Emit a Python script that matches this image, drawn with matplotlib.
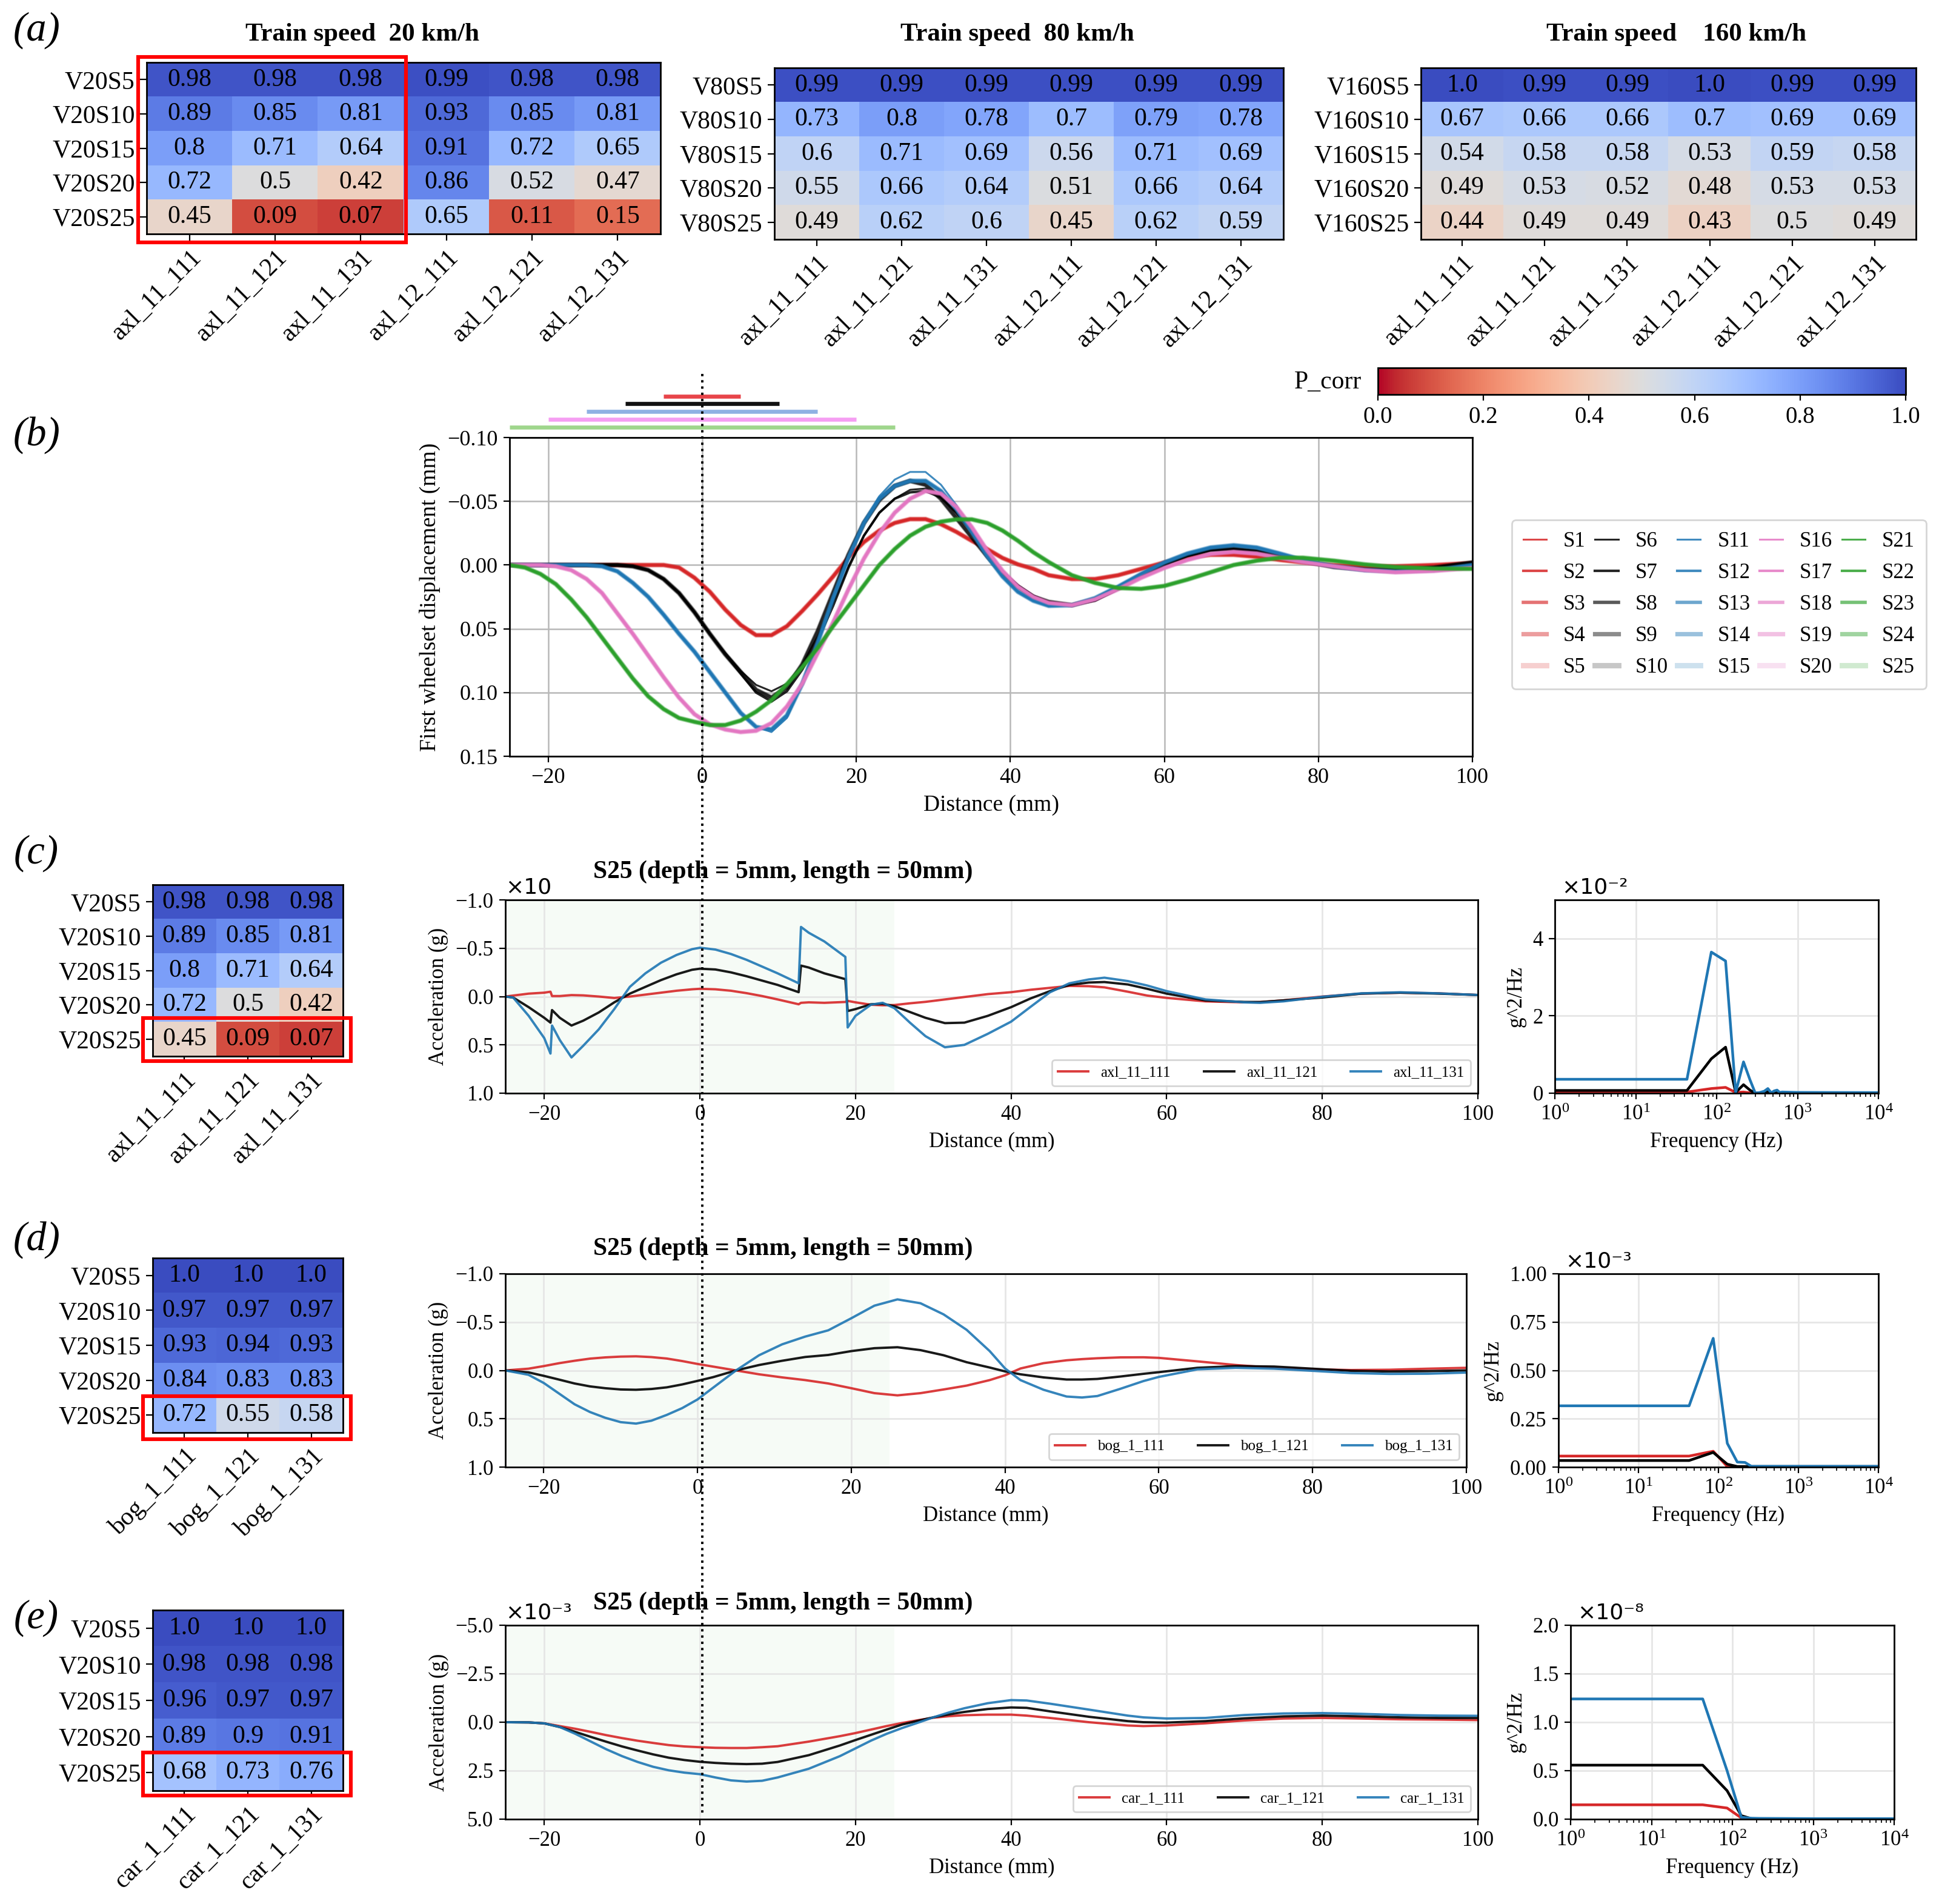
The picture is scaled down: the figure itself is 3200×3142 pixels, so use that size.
import matplotlib
matplotlib.use('Agg')
import matplotlib.pyplot as plt
import matplotlib.transforms as mtransforms
from matplotlib.lines import Line2D
from matplotlib.patches import Rectangle

plt.rcParams['font.family'] = ['Liberation Serif', 'DejaVu Serif']
plt.rcParams['mathtext.fontset'] = 'stix'
plt.rcParams['axes.linewidth'] = 1.0

# ---------------- (a) correlation tables ----------------
axl_cols = ['axl_11_111', 'axl_11_121', 'axl_11_131', 'axl_12_111', 'axl_12_121', 'axl_12_131']
rows_v20 = ['V20S5', 'V20S10', 'V20S15', 'V20S20', 'V20S25']
rows_v80 = ['V80S5', 'V80S10', 'V80S15', 'V80S20', 'V80S25']
rows_v160 = ['V160S5', 'V160S10', 'V160S15', 'V160S20', 'V160S25']
corr_v20 = [[0.98, 0.98, 0.98, 0.99, 0.98, 0.98],
            [0.89, 0.85, 0.81, 0.93, 0.85, 0.81],
            [0.8, 0.71, 0.64, 0.91, 0.72, 0.65],
            [0.72, 0.5, 0.42, 0.86, 0.52, 0.47],
            [0.45, 0.09, 0.07, 0.65, 0.11, 0.15]]
corr_v80 = [[0.99, 0.99, 0.99, 0.99, 0.99, 0.99],
            [0.73, 0.8, 0.78, 0.7, 0.79, 0.78],
            [0.6, 0.71, 0.69, 0.56, 0.71, 0.69],
            [0.55, 0.66, 0.64, 0.51, 0.66, 0.64],
            [0.49, 0.62, 0.6, 0.45, 0.62, 0.59]]
corr_v160 = [[1.0, 0.99, 0.99, 1.0, 0.99, 0.99],
             [0.67, 0.66, 0.66, 0.7, 0.69, 0.69],
             [0.54, 0.58, 0.58, 0.53, 0.59, 0.58],
             [0.49, 0.53, 0.52, 0.48, 0.53, 0.53],
             [0.44, 0.49, 0.49, 0.43, 0.5, 0.49]]
axl_cols3 = ['axl_11_111', 'axl_11_121', 'axl_11_131']
bog_cols = ['bog_1_111', 'bog_1_121', 'bog_1_131']
car_cols = ['car_1_111', 'car_1_121', 'car_1_131']
corr_axl = [[0.98, 0.98, 0.98], [0.89, 0.85, 0.81], [0.8, 0.71, 0.64], [0.72, 0.5, 0.42], [0.45, 0.09, 0.07]]
corr_bog = [[1.0, 1.0, 1.0], [0.97, 0.97, 0.97], [0.93, 0.94, 0.93], [0.84, 0.83, 0.83], [0.72, 0.55, 0.58]]
corr_car = [[1.0, 1.0, 1.0], [0.98, 0.98, 0.98], [0.96, 0.97, 0.97], [0.89, 0.9, 0.91], [0.68, 0.73, 0.76]]

# ---------------- (b) first wheelset displacement ----------------
x_disp = [-25, -23, -21, -19, -17, -15, -13, -11, -9, -7, -5, -3, -1, 1, 3, 5, 7, 9, 11, 13,
          15, 17, 19, 21, 23, 25, 27, 29, 31, 33, 35, 37, 39, 41, 43, 45, 48, 51, 54, 57, 60,
          63, 66, 69, 72, 75, 78, 82, 86, 90, 95, 100]
disp_red = [0, 0, 0, 0, 0, 0, 0, 0, 0, 0, 0.0, 0.002, 0.010, 0.021, 0.035, 0.047, 0.055, 0.055, 0.048, 0.036,
            0.023, 0.009, -0.006, -0.018, -0.027, -0.033, -0.036, -0.036, -0.032, -0.026, -0.019, -0.0125,
            -0.0055, -0.0005, 0.003, 0.008, 0.011, 0.011, 0.008, 0.003, -0.002, -0.006, -0.008, -0.008,
            -0.0065, -0.004, -0.002, 0.0, 0.001, 0.001, 0.0, -0.0015]
disp_blk_a = [0, 0, 0, 0, 0, 0, 0, 0, 0.001, 0.004, 0.011, 0.022, 0.037, 0.054, 0.069, 0.083, 0.094, 0.099,
              0.093, 0.078, 0.056, 0.030, 0.001, -0.023, -0.041, -0.052, -0.059, -0.060, -0.054, -0.041,
              -0.026, -0.010, 0.005, 0.016, 0.024, 0.029, 0.0315, 0.028, 0.019, 0.009, 0.0, -0.007, -0.0114,
              -0.0125, -0.011, -0.007, -0.003, 0.0015, 0.0035, 0.004, 0.002, -0.002]
disp_blk_b = [0, 0, 0, 0, 0, 0, 0, 0, 0.001, 0.004, 0.011, 0.022, 0.037, 0.054, 0.070, 0.085, 0.100, 0.107,
              0.099, 0.082, 0.059, 0.032, 0.002, -0.023, -0.041, -0.052, -0.057, -0.058, -0.053, -0.041,
              -0.026, -0.010, 0.005, 0.016, 0.024, 0.029, 0.0315, 0.028, 0.019, 0.009, 0.0, -0.007, -0.0114,
              -0.0125, -0.011, -0.007, -0.003, 0.0015, 0.0035, 0.004, 0.002, -0.002]
disp_gray = [0, 0, 0, 0, 0, 0, 0, 0, 0.001, 0.004, 0.011, 0.022, 0.037, 0.054, 0.070, 0.084, 0.098, 0.104,
             0.096, 0.078, 0.052, 0.022, -0.008, -0.033, -0.051, -0.062, -0.066, -0.063, -0.052, -0.037,
             -0.022, -0.007, 0.007, 0.017, 0.025, 0.029, 0.0315, 0.027, 0.018, 0.008, -0.001, -0.008,
             -0.012, -0.013, -0.011, -0.007, -0.003, 0.0015, 0.0035, 0.004, 0.002, -0.002]
disp_blu_a = [0, 0, 0, 0, 0, 0, 0.001, 0.005, 0.014, 0.025, 0.039, 0.054, 0.068, 0.084, 0.100, 0.116, 0.127,
              0.131, 0.120, 0.093, 0.061, 0.026, -0.006, -0.033, -0.054, -0.067, -0.073, -0.073, -0.063,
              -0.047, -0.026, -0.007, 0.009, 0.021, 0.028, 0.032, 0.0315, 0.026, 0.017, 0.007, -0.002,
              -0.009, -0.0137, -0.0155, -0.0137, -0.009, -0.004, 0.001, 0.004, 0.005, 0.004, 0.0]
disp_blu_b = [0, 0, 0, 0, 0, 0, 0.001, 0.005, 0.014, 0.025, 0.039, 0.054, 0.068, 0.084, 0.100, 0.116, 0.127,
              0.129, 0.118, 0.093, 0.061, 0.026, -0.006, -0.033, -0.052, -0.062, -0.066, -0.066, -0.058,
              -0.044, -0.026, -0.007, 0.009, 0.021, 0.028, 0.032, 0.0315, 0.026, 0.017, 0.007, -0.002,
              -0.009, -0.0137, -0.0155, -0.0137, -0.009, -0.004, 0.001, 0.004, 0.005, 0.004, 0.0]
disp_pnk = [0, 0, 0, 0.001, 0.004, 0.011, 0.022, 0.038, 0.054, 0.071, 0.088, 0.104, 0.117, 0.125, 0.129, 0.131,
            0.130, 0.124, 0.111, 0.093, 0.069, 0.045, 0.019, -0.005, -0.025, -0.041, -0.052, -0.058, -0.056,
            -0.0456, -0.0297, -0.0114, 0.0046, 0.017, 0.025, 0.0297, 0.0315, 0.027, 0.019, 0.010, 0.0023,
            -0.004, -0.0087, -0.0103, -0.009, -0.0057, -0.0023, 0.001, 0.004, 0.0057, 0.0046, 0.0023]
disp_grn = [0, 0.002, 0.007, 0.015, 0.027, 0.041, 0.057, 0.073, 0.089, 0.103, 0.113, 0.120, 0.123, 0.1255,
            0.1255, 0.122, 0.115, 0.106, 0.0935, 0.080, 0.065, 0.048, 0.032, 0.016, 0.0, -0.0125, -0.023,
            -0.030, -0.034, -0.0358, -0.0358, -0.033, -0.027, -0.019, -0.010, -0.0023, 0.008, 0.014, 0.018,
            0.0187, 0.0164, 0.0114, 0.0057, 0.0, -0.0034, -0.0057, -0.0057, -0.0034, -0.0005, 0.0016,
            0.0027, 0.003]
disp_series = [disp_red, disp_red, disp_red, disp_red, disp_red,
               disp_blk_a, disp_blk_b, disp_gray, disp_gray, disp_gray,
               disp_blu_a, disp_blu_b, disp_blu_b, disp_blu_b, disp_blu_b,
               disp_pnk, disp_pnk, disp_pnk, disp_pnk, disp_pnk,
               disp_grn, disp_grn, disp_grn, disp_grn, disp_grn]
s_labels = ['S%d' % (i + 1) for i in range(25)]
group_colors = ['tab:red', 'black', 'tab:blue', 'tab:pink', 'tab:green']
member_alpha = [0.85, 0.85, 0.65, 0.45, 0.22]
member_lw = [1.1, 1.5, 2.0, 2.6, 3.2]
# defect half lengths drawn above panel (b)
bar_half = [5, 10, 15, 20, 25]
bar_colors = ['#e8454a', '#111111', '#8fb1e3', '#f59ef2', '#9fd68c']

# ---------------- (c) axle box acceleration ----------------
x_c = [-25, -24, -22, -20, -19.2, -19, -18, -16.5, -15, -13, -11, -9, -7, -5, -3, -1, 0, 2, 4, 6, 8, 10,
       12.7, 13, 14, 16, 18.7, 19, 20, 22, 23.5, 25, 27, 29, 31.5, 34, 37, 40, 42.5, 45, 47.5, 50, 52,
       55, 57.5, 60, 65, 70, 72, 75, 80, 85, 90, 95, 100]
acc_axl_111 = [0.0, -0.01, -0.03, -0.04, -0.05, -0.005, -0.005, -0.015, -0.012, 0.0, 0.015, 0.0, -0.02,
               -0.04, -0.06, -0.075, -0.08, -0.075, -0.06, -0.035, -0.005, 0.03, 0.08, 0.065, 0.06, 0.065,
               0.056, 0.045, 0.06, 0.085, 0.09, 0.088, 0.07, 0.055, 0.03, 0.005, -0.025, -0.045, -0.07,
               -0.09, -0.11, -0.107, -0.095, -0.05, -0.01, 0.014, 0.05, 0.06, 0.058, 0.04, 0.0, -0.03,
               -0.04, -0.033, -0.016]
acc_axl_121 = [0.0, 0.01, 0.11, 0.22, 0.27, 0.14, 0.22, 0.30, 0.25, 0.165, 0.06, -0.03, -0.10, -0.17,
               -0.23, -0.277, -0.288, -0.28, -0.25, -0.21, -0.165, -0.12, -0.045, -0.32, -0.30, -0.24,
               -0.18, 0.15, 0.13, 0.08, 0.075, 0.10, 0.16, 0.22, 0.275, 0.27, 0.20, 0.11, 0.02, -0.056,
               -0.12, -0.145, -0.15, -0.125, -0.08, -0.03, 0.04, 0.056, 0.057, 0.04, 0.01, -0.03, -0.04,
               -0.03, -0.016]
acc_axl_131 = [0.0, 0.01, 0.2, 0.43, 0.59, 0.30, 0.45, 0.63, 0.51, 0.34, 0.13, -0.10, -0.24, -0.35, -0.43,
               -0.49, -0.505, -0.486, -0.44, -0.38, -0.31, -0.24, -0.137, -0.72, -0.66, -0.57, -0.41, 0.32,
               0.2, 0.084, 0.065, 0.12, 0.27, 0.41, 0.525, 0.50, 0.386, 0.26, 0.107, -0.044, -0.137,
               -0.177, -0.195, -0.16, -0.114, -0.056, 0.03, 0.06, 0.065, 0.05, 0.002, -0.033, -0.044,
               -0.033, -0.016]

# ---------------- (d) bogie acceleration ----------------
x_d = [-25, -22, -20, -18, -16, -14, -12, -10, -8, -6, -4, -2, 0, 2, 5, 8, 11, 14, 17, 20, 23, 26, 29,
       32, 35, 38, 40, 42, 45, 48, 50, 52, 55, 58, 60, 65, 70, 75, 80, 85, 90, 95, 100]
acc_bog_111 = [0, -0.018, -0.045, -0.075, -0.1, -0.122, -0.135, -0.143, -0.146, -0.138, -0.123, -0.097,
               -0.067, -0.04, 0.0, 0.04, 0.072, 0.1, 0.135, 0.184, 0.235, 0.258, 0.235, 0.197, 0.157, 0.1,
               0.05, -0.02, -0.075, -0.105, -0.117, -0.126, -0.135, -0.136, -0.13, -0.094, -0.056, -0.027,
               -0.011, -0.004, -0.007, -0.018, -0.027]
acc_bog_121 = [0, 0.02, 0.056, 0.095, 0.135, 0.165, 0.184, 0.197, 0.20, 0.192, 0.175, 0.145, 0.108, 0.07,
               0.0, -0.056, -0.1, -0.139, -0.16, -0.2, -0.23, -0.24, -0.21, -0.157, -0.085, -0.03, 0.01,
               0.04, 0.072, 0.094, 0.094, 0.088, 0.063, 0.035, 0.018, -0.027, -0.045, -0.04, -0.018,
               0.004, 0.011, 0.007, 0.0]
acc_bog_131 = [0, 0.045, 0.13, 0.24, 0.35, 0.43, 0.49, 0.535, 0.55, 0.52, 0.46, 0.39, 0.30, 0.18, 0.0,
               -0.157, -0.27, -0.35, -0.415, -0.54, -0.67, -0.735, -0.695, -0.58, -0.42, -0.2, -0.02, 0.1,
               0.2, 0.27, 0.28, 0.265, 0.19, 0.11, 0.067, -0.011, -0.027, -0.018, 0.004, 0.027, 0.036,
               0.034, 0.022]

# ---------------- (e) car body acceleration (x1e-3) ----------------
x_e = [-25, -22, -20, -18, -16, -14, -12, -10, -8, -6, -4, -2, 0, 2, 4, 6, 8, 10, 14, 18, 20, 22, 24,
       26, 28, 30, 32, 34, 37, 40, 42, 45, 50, 55, 57, 60, 65, 70, 75, 80, 85, 90, 95, 100]
acc_car_111 = [0, 0.01, 0.06, 0.2, 0.34, 0.5, 0.67, 0.82, 0.955, 1.07, 1.18, 1.25, 1.29, 1.32, 1.33, 1.33,
               1.29, 1.24, 1.0, 0.72, 0.56, 0.38, 0.2, 0.04, -0.1, -0.23, -0.31, -0.36, -0.39, -0.39,
               -0.34, -0.22, 0.0, 0.17, 0.2, 0.17, 0.056, -0.09, -0.19, -0.22, -0.19, -0.15, -0.135, -0.11]
acc_car_121 = [0, 0.01, 0.06, 0.25, 0.5, 0.76, 1.01, 1.25, 1.46, 1.66, 1.83, 1.95, 2.04, 2.1, 2.14, 2.16,
               2.14, 2.05, 1.7, 1.2, 0.92, 0.65, 0.38, 0.12, -0.07, -0.25, -0.4, -0.53, -0.68, -0.76,
               -0.74, -0.56, -0.28, -0.056, 0.0, 0.02, -0.056, -0.2, -0.3, -0.34, -0.3, -0.25, -0.22, -0.22]
acc_car_131 = [0, 0.01, 0.06, 0.25, 0.6, 1.0, 1.4, 1.75, 2.05, 2.3, 2.48, 2.6, 2.68, 2.85, 3.0, 3.06, 3.02,
               2.85, 2.4, 1.75, 1.35, 0.95, 0.6, 0.3, 0.03, -0.25, -0.5, -0.72, -0.98, -1.14, -1.12,
               -0.955, -0.65, -0.34, -0.25, -0.19, -0.22, -0.37, -0.45, -0.47, -0.43, -0.37, -0.34, -0.33]

# ---------------- PSD ----------------
f_c = [1, 43, 86, 129, 172, 215, 258, 301, 344, 387, 430, 473, 516, 559, 602, 645, 1000, 10000]
psd_axl_111 = [0.03, 0.03, 0.12, 0.15, 0.02, 0.03, 0.01, 0.0, 0.003, 0.003, 0.003, 0.003, 0.003, 0.003,
               0.003, 0.003, 0.003, 0.003]
psd_axl_121 = [0.07, 0.07, 0.89, 1.19, 0.02, 0.22, 0.08, 0.0, 0.01, 0.01, 0.04, 0.0, 0.02, 0.01, 0.005,
               0.005, 0.005, 0.005]
psd_axl_131 = [0.36, 0.36, 3.65, 3.42, 0.02, 0.81, 0.35, 0.0, 0.02, 0.05, 0.12, 0.01, 0.06, 0.08, 0.02,
               0.03, 0.02, 0.015]
f_d = [1, 43, 86, 129, 172, 215, 258, 301, 1000, 10000]
psd_bog_111 = [0.057, 0.057, 0.082, 0.003, 0.002, 0.002, 0.002, 0.002, 0.002, 0.002]
psd_bog_121 = [0.034, 0.034, 0.076, 0.015, 0.003, 0.003, 0.003, 0.003, 0.003, 0.003]
psd_bog_131 = [0.317, 0.317, 0.666, 0.123, 0.026, 0.024, 0.004, 0.004, 0.004, 0.004]
f_e = [1, 43, 86, 129, 172, 215, 1000, 10000]
psd_car_111 = [0.148, 0.148, 0.115, 0.013, 0.004, 0.004, 0.004, 0.004]
psd_car_121 = [0.557, 0.557, 0.294, 0.036, 0.005, 0.005, 0.005, 0.005]
psd_car_131 = [1.24, 1.24, 0.5, 0.02, 0.01, 0.008, 0.005, 0.005]

line_colors = ['tab:red', 'black', 'tab:blue']

fig = plt.figure(figsize=(16, 15.71), dpi=200)


def add_ax(x0, y0, x1, y1):
    # pixel box (top-left origin) -> figure fraction
    W, H = 3200.0, 3142.0
    return fig.add_axes([x0 / W, 1 - y1 / H, (x1 - x0) / W, (y1 - y0) / H])


def heat(ax, vals, rows, cols, fs=15):
    ax.imshow(vals, cmap='coolwarm_r', vmin=0, vmax=1, aspect='auto', interpolation='nearest')
    for i in range(len(rows)):
        for j in range(len(cols)):
            ax.text(j, i, str(vals[i][j]), ha='center', va='center', fontsize=fs)
    ax.set_xticks(range(len(cols)))
    ax.set_xticklabels(cols, rotation=45, ha='right', rotation_mode='anchor', fontsize=fs)
    ax.set_yticks(range(len(rows)))
    ax.set_yticklabels(rows, fontsize=fs)
    ax.tick_params(length=4, width=0.8, pad=3)
    for s in ax.spines.values():
        s.set_linewidth(1.0)


def red_box(ax, x, y, w, h):
    ax.add_patch(Rectangle((x, y), w, h, fill=False, edgecolor='red', lw=2.2, clip_on=False, zorder=5))


# (a)
ha1 = add_ax(242, 103, 1090, 386)
heat(ha1, corr_v20, rows_v20, axl_cols)
red_box(ha1, -0.6, -0.66, 3.13, 5.41)
ha2 = add_ax(1278, 112, 2118, 395)
heat(ha2, corr_v80, rows_v80, axl_cols)
ha3 = add_ax(2345, 112, 3162, 395)
heat(ha3, corr_v160, rows_v160, axl_cols)

fig.text(0.1869, 0.9819, 'Train speed  20 km/h', ha='center', va='center', fontsize=15.5, fontweight='bold')
fig.text(0.5247, 0.9819, 'Train speed  80 km/h', ha='center', va='center', fontsize=15.5, fontweight='bold')
fig.text(0.8647, 0.9819, 'Train speed    160 km/h', ha='center', va='center', fontsize=15.5, fontweight='bold')

cax = add_ax(2274, 607, 3145, 651)
sm = plt.cm.ScalarMappable(cmap='coolwarm_r', norm=plt.Normalize(0, 1))
cb = fig.colorbar(sm, cax=cax, orientation='horizontal')
cb.set_ticks([0.0, 0.2, 0.4, 0.6, 0.8, 1.0])
cb.ax.tick_params(labelsize=14)
fig.text(0.6847, 0.7992, 'P_corr', ha='center', va='center', fontsize=15)

# (b)
axb = add_ax(841, 722, 2430, 1248)
for i, ys in enumerate(disp_series):
    g, m = divmod(i, 5)
    axb.plot(x_disp, ys, color=group_colors[g], alpha=member_alpha[m], lw=member_lw[m], label=s_labels[i])
axb.set_xlim(-25, 100)
axb.set_ylim(0.15, -0.10)
axb.set_yticks([-0.10, -0.05, 0.0, 0.05, 0.10, 0.15])
axb.set_xticks([-20, 0, 20, 40, 60, 80, 100])
axb.grid(True, color='#b8b8b8', lw=0.9)
axb.set_axisbelow(True)
axb.tick_params(labelsize=13)
axb.set_xlabel('Distance (mm)', fontsize=13.5)
axb.set_ylabel('First wheelset displacement (mm)', fontsize=13.5)
axb.legend(ncol=5, loc='center left', bbox_to_anchor=(1.03, 0.476), fontsize=12.5,
           handlelength=1.1, handletextpad=0.8, columnspacing=0.45, borderpad=0.55, labelspacing=0.55)
tb = mtransforms.blended_transform_factory(axb.transData, axb.transAxes)
for half, yy, c in zip(bar_half, [1.129, 1.106, 1.082, 1.057, 1.032], bar_colors):
    axb.plot([-half, half], [yy, yy], transform=tb, color=c, lw=2.4, clip_on=False, solid_capstyle='butt')


def accel(ax, xs, series, labels, ylim, yticks, offset=None):
    ax.axvspan(-25, 25, color='#2ca02c', alpha=0.04, lw=0, zorder=0)
    for ys, lab, c in zip(series, labels, line_colors):
        ax.plot(xs, ys, color=c, lw=1.4, alpha=0.9, label=lab)
    ax.set_xlim(-25, 100)
    ax.set_ylim(*ylim)
    ax.set_yticks(yticks)
    ax.set_xticks([-20, 0, 20, 40, 60, 80, 100])
    ax.grid(True, color='#e6e6e6', lw=1.0)
    ax.set_axisbelow(True)
    ax.tick_params(labelsize=12.5)
    ax.set_xlabel('Distance (mm)', fontsize=12.5)
    ax.set_ylabel('Acceleration (g)', fontsize=12.5)
    ax.legend(ncol=3, loc='lower right', fontsize=9, columnspacing=2.2, handlelength=2.0)
    if offset:
        ax.text(0.0, 1.01, offset, transform=ax.transAxes, ha='left', va='bottom', fontsize=13,
                family='DejaVu Sans')


def psd(ax, fs_, series, ylim, yticks, offset):
    for ys, c in zip(series, line_colors):
        ax.plot(fs_, ys, color=c, lw=1.6)
    ax.set_xscale('log')
    ax.set_xlim(1, 1e4)
    ax.set_ylim(*ylim)
    ax.set_yticks(yticks)
    ax.grid(True, which='major', color='#e6e6e6', lw=1.0)
    ax.set_axisbelow(True)
    ax.tick_params(labelsize=12.5)
    ax.set_xlabel('Frequency (Hz)', fontsize=12.5)
    ax.set_ylabel('g^2/Hz', fontsize=12.5)
    ax.text(0.02, 1.01, offset, transform=ax.transAxes, ha='left', va='bottom', fontsize=13,
            family='DejaVu Sans')


title_txt = 'S25 (depth = 5mm, length = 50mm)'

# (c)
hc = add_ax(252, 1460, 566, 1743)
heat(hc, corr_axl, rows_v20, axl_cols3)
red_box(hc, -0.65, 3.39, 3.27, 1.25)
ac = add_ax(834, 1485, 2439, 1804)
accel(ac, x_c, [acc_axl_111, acc_axl_121, acc_axl_131], axl_cols3, (1.0, -1.0),
      [-1.0, -0.5, 0.0, 0.5, 1.0], '×10')
pc = add_ax(2566, 1485, 3100, 1804)
psd(pc, f_c, [psd_axl_111, psd_axl_121, psd_axl_131], (0, 5), [0, 2, 4], '×10⁻²')
fig.text(0.3059, 0.5420, title_txt, ha='left', va='center', fontsize=15, fontweight='bold')

# (d)
hd = add_ax(252, 2076, 566, 2364)
heat(hd, corr_bog, rows_v20, bog_cols)
red_box(hd, -0.65, 3.46, 3.27, 1.23)
ad = add_ax(834, 2102, 2420, 2421)
accel(ad, x_d, [acc_bog_111, acc_bog_121, acc_bog_131], bog_cols, (1.0, -1.0),
      [-1.0, -0.5, 0.0, 0.5, 1.0])
pd_ = add_ax(2572, 2102, 3100, 2421)
psd(pd_, f_d, [psd_bog_111, psd_bog_121, psd_bog_131], (0, 1.0), [0.0, 0.25, 0.5, 0.75, 1.0], '×10⁻³')
fig.text(0.3059, 0.3440, title_txt, ha='left', va='center', fontsize=15, fontweight='bold')

# (e)
he = add_ax(252, 2657, 566, 2955)
heat(he, corr_car, rows_v20, car_cols)
red_box(he, -0.65, 3.44, 3.27, 1.19)
ae = add_ax(834, 2682, 2439, 3002)
accel(ae, x_e, [acc_car_111, acc_car_121, acc_car_131], car_cols, (5.0, -5.0),
      [-5.0, -2.5, 0.0, 2.5, 5.0], '×10⁻³')
pe = add_ax(2592, 2682, 3126, 3002)
psd(pe, f_e, [psd_car_111, psd_car_121, psd_car_131], (0, 2.0), [0.0, 0.5, 1.0, 1.5, 2.0], '×10⁻⁸')
fig.text(0.3059, 0.1579, title_txt, ha='left', va='center', fontsize=15, fontweight='bold')

# panel letters
for lab, yy in zip(['(a)', '(b)', '(c)', '(d)', '(e)'], [0.984, 0.7715, 0.5519, 0.3488, 0.1502]):
    fig.text(0.0188, yy, lab, ha='center', va='center', fontsize=24, fontstyle='italic')

# dotted reference line at x = 0 through panels (b)-(e)
px = axb.transData.transform((0, 0))
x0 = fig.transFigure.inverted().transform(px)[0]
fig.add_artist(Line2D([x0, x0], [0.8036, 0.0461], transform=fig.transFigure, ls=':', color='k', lw=1.4))

fig.savefig('out.png', dpi=200)
